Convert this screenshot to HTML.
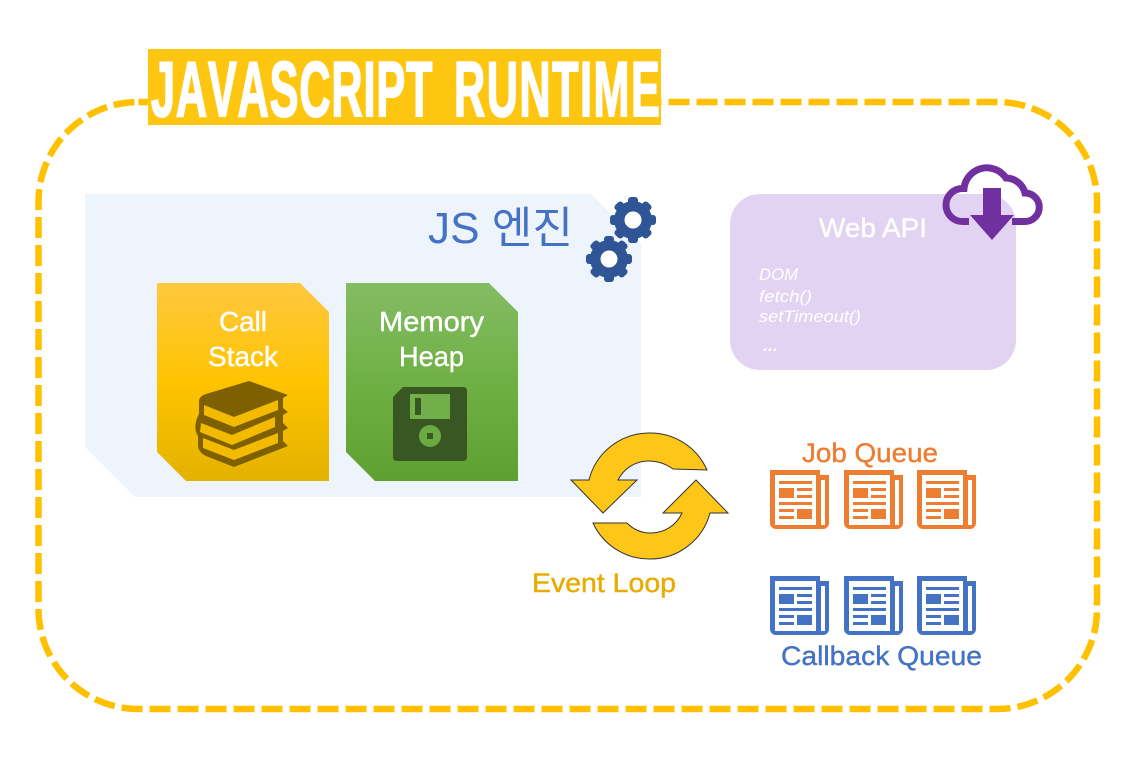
<!DOCTYPE html>
<html><head><meta charset="utf-8">
<style>
html,body{margin:0;padding:0;background:#fff;width:1138px;height:760px;overflow:hidden}
svg{display:block}
text{font-family:"Liberation Sans","Noto Sans CJK KR",sans-serif}
.t{font-kerning:none;font-weight:700;font-size:80px;fill:#fff;stroke:#fff;stroke-width:2px}
.m{stroke-width:.4px}
</style></head>
<body>
<svg width="1138" height="760" viewBox="0 0 1138 760" xmlns="http://www.w3.org/2000/svg">
<defs>
<linearGradient id="gy" x1="0" y1="0" x2="0" y2="1">
<stop offset="0" stop-color="#FFC740"/><stop offset="0.5" stop-color="#FFC400"/><stop offset="1" stop-color="#E3B200"/>
</linearGradient>
<linearGradient id="gg" x1="0" y1="0" x2="0" y2="1">
<stop offset="0" stop-color="#84BC64"/><stop offset="0.5" stop-color="#6FB044"/><stop offset="1" stop-color="#5FA032"/>
</linearGradient>
<g id="gear">
<circle r="19" fill="#2F5597"/>
<g fill="#2F5597">
<rect x="-5" y="-23" width="10" height="46" rx="3"/>
<rect x="-5" y="-23" width="10" height="46" rx="3" transform="rotate(45)"/>
<rect x="-5" y="-23" width="10" height="46" rx="3" transform="rotate(90)"/>
<rect x="-5" y="-23" width="10" height="46" rx="3" transform="rotate(135)"/>
</g>
<circle r="8.5" fill="#fff"/>
</g>
<g id="news">
<path fill="currentColor" d="M0,0H50V5H59V53A6,6 0 0 1 53,59H6A6,6 0 0 1 0,53Z"/>
<rect x="5" y="5" width="41" height="50" fill="#fff"/>
<rect x="51" y="10" width="4" height="45" fill="#fff"/>
<g fill="currentColor">
<rect x="9" y="11" width="33" height="3"/>
<rect x="9" y="18" width="15" height="10"/>
<rect x="27" y="18" width="15" height="3"/>
<rect x="27" y="25" width="15" height="3"/>
<rect x="9" y="32" width="33" height="3"/>
<rect x="9" y="39" width="15" height="3"/>
<rect x="9" y="46" width="15" height="3"/>
<rect x="27" y="39" width="15" height="10"/>
</g>
</g>
</defs>

<rect x="38.5" y="102" width="1058.5" height="607" rx="100" ry="100" fill="none" stroke="#FFC000" stroke-width="6.5" stroke-dasharray="21 7" stroke-dashoffset="2"/>

<rect x="148" y="49" width="513" height="76" fill="#FFC611"/>
<text class="t" transform="translate(151,116) scale(.54,.97)" letter-spacing="1.6">JAVASCRIPT</text>
<text class="t" transform="translate(454,116) scale(.54,.97)" letter-spacing="2.8">RUNTIME</text>

<polygon points="85,194 591,194 641,244 641,497 135,497 85,447" fill="#EDF4FB"/>
<text x="428" y="243" font-size="44" fill="#4472C4" textLength="145" lengthAdjust="spacingAndGlyphs">JS 엔진</text>

<use href="#gear" x="633" y="220"/>
<use href="#gear" x="609" y="259"/>

<polygon points="157,283 300,283 329,312 329,481 186,481 157,452" fill="url(#gy)"/>
<g class="m" stroke="#fff">
<text x="219" y="331" font-size="28" fill="#fff" textLength="48" lengthAdjust="spacingAndGlyphs">Call</text>
<text x="208" y="366" font-size="28" fill="#fff" textLength="70" lengthAdjust="spacingAndGlyphs">Stack</text>
</g>

<path fill="#7F6000" d="M249,381L288,395L283,398V408L288,412L283,415V423L288,428L283,431V441L288,446L234,467L206,456Q198,452 198,445V436Q194,430 196,422Q197,417 199,414V402Q199,396 206,394Z"/>
<g fill="#F2BB00">
<polygon points="204,405 234,417 278,400 278,410 234,427 204,415"/>
<polygon points="201,423 232,435 275,417 275,427 232,445 200,432"/>
<polygon points="203,438 234,450 278,433 278,443 234,460 203,448"/>
</g>

<polygon points="346,283 489,283 518,312 518,481 375,481 346,452" fill="url(#gg)"/>
<g class="m" stroke="#fff">
<text x="379" y="331" font-size="28" fill="#fff" textLength="105" lengthAdjust="spacingAndGlyphs">Memory</text>
<text x="399" y="366" font-size="28" fill="#fff" textLength="65" lengthAdjust="spacingAndGlyphs">Heap</text>
</g>

<path fill="#385723" d="M403,387H463Q467,387 467,391V457Q467,461 463,461H397Q393,461 393,457V397Z"/>
<rect x="410" y="394" width="40" height="25" fill="#72AE4A"/>
<rect x="415" y="398" width="6" height="17" fill="#385723"/>
<circle cx="430" cy="436" r="11" fill="#6CAA44"/>
<rect x="427" y="433" width="6" height="6" fill="#385723"/>

<rect x="730" y="194" width="286" height="176" rx="30" ry="30" fill="#E3D3F3"/>
<text x="819" y="237" font-size="27" fill="#fff" class="m" stroke="#fff" textLength="108" lengthAdjust="spacingAndGlyphs">Web API</text>
<g font-size="17" font-style="italic" fill="#fff">
<text x="759" y="280" textLength="39" lengthAdjust="spacingAndGlyphs">DOM</text>
<text x="759" y="302" textLength="53" lengthAdjust="spacingAndGlyphs">fetch()</text>
<text x="759" y="322" textLength="102" lengthAdjust="spacingAndGlyphs">setTimeout()</text>
<text x="763" y="351" textLength="15" lengthAdjust="spacingAndGlyphs" font-weight="700">...</text>
</g>

<path fill="none" stroke="#7030A0" stroke-width="7" d="M969,221.5H962.5A16.5,16.5 0 0 1 962.5,188.5H964A23,23 0 0 1 1006,178A20,20 0 0 1 1025,193A14.2,14.2 0 0 1 1025,221.5H1012"/>
<polygon points="983,188 1001,188 1001,215 1014,215 992,240 970,215 983,215" fill="#7030A0"/>

<g fill="#FFC61A" stroke="#333" stroke-width="1">
<path d="M707,470A62,62 0 0 0 648,433A62,62 0 0 0 589,480H571L603,513L637,480H618A34,34 0 0 1 648,461Q662,461 673,469Z"/>
<path d="M593,523A62,62 0 0 0 650,559A62,62 0 0 0 710,513H728L696,480L663,513H682A34,34 0 0 1 650,533Q637,533 627,523Z"/>
</g>
<text x="532" y="592" font-size="27" fill="#E8AC00" class="m" stroke="#E8AC00" textLength="144" lengthAdjust="spacingAndGlyphs">Event Loop</text>

<text x="802" y="462" font-size="27" fill="#ED7D31" class="m" stroke="#ED7D31" textLength="136" lengthAdjust="spacingAndGlyphs">Job Queue</text>
<g color="#ED7D31">
<use href="#news" x="770" y="470"/>
<use href="#news" x="844" y="470"/>
<use href="#news" x="917" y="470"/>
</g>
<g color="#4472C4">
<use href="#news" x="770" y="576"/>
<use href="#news" x="844" y="576"/>
<use href="#news" x="917" y="576"/>
</g>
<text x="781" y="665" font-size="27" fill="#4472C4" class="m" stroke="#4472C4" textLength="201" lengthAdjust="spacingAndGlyphs">Callback Queue</text>
</svg>
</body></html>
